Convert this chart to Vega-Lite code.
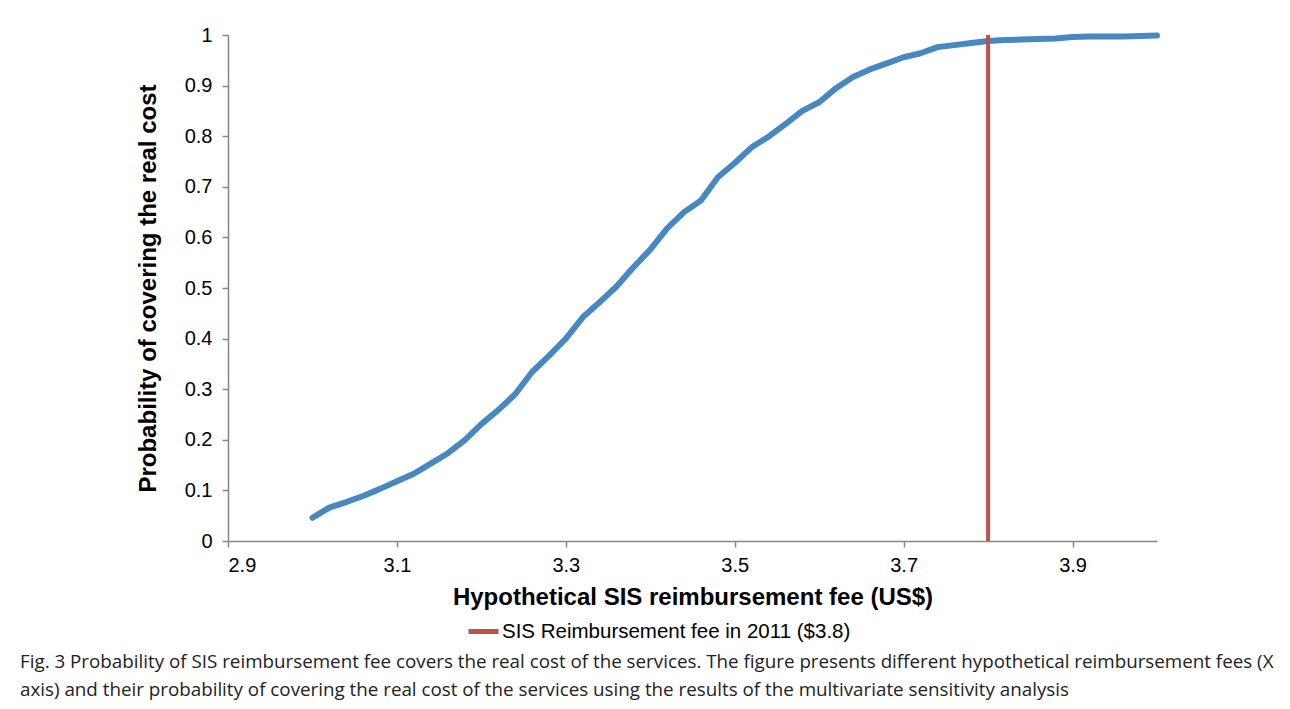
{
  "$schema": "https://vega.github.io/schema/vega-lite/v6.json",
  "width": 929,
  "height": 506,
  "autosize": "none",
  "padding": {"left": 228, "top": 35, "right": 133, "bottom": 168},
  "background": "white",
  "datasets": {
    "curve": [
      {"fee": 3.00, "probability": 0.046},
      {"fee": 3.02, "probability": 0.066},
      {"fee": 3.04, "probability": 0.077},
      {"fee": 3.06, "probability": 0.089},
      {"fee": 3.08, "probability": 0.103},
      {"fee": 3.10, "probability": 0.118},
      {"fee": 3.12, "probability": 0.133},
      {"fee": 3.14, "probability": 0.153},
      {"fee": 3.16, "probability": 0.173},
      {"fee": 3.18, "probability": 0.199},
      {"fee": 3.20, "probability": 0.231},
      {"fee": 3.22, "probability": 0.259},
      {"fee": 3.24, "probability": 0.290},
      {"fee": 3.26, "probability": 0.334},
      {"fee": 3.28, "probability": 0.366},
      {"fee": 3.30, "probability": 0.400},
      {"fee": 3.32, "probability": 0.442},
      {"fee": 3.34, "probability": 0.472},
      {"fee": 3.36, "probability": 0.503},
      {"fee": 3.38, "probability": 0.541},
      {"fee": 3.40, "probability": 0.576},
      {"fee": 3.42, "probability": 0.618},
      {"fee": 3.44, "probability": 0.650},
      {"fee": 3.46, "probability": 0.673},
      {"fee": 3.48, "probability": 0.719},
      {"fee": 3.50, "probability": 0.747},
      {"fee": 3.52, "probability": 0.778},
      {"fee": 3.54, "probability": 0.799},
      {"fee": 3.56, "probability": 0.824},
      {"fee": 3.58, "probability": 0.850},
      {"fee": 3.60, "probability": 0.867},
      {"fee": 3.62, "probability": 0.895},
      {"fee": 3.64, "probability": 0.917},
      {"fee": 3.66, "probability": 0.932},
      {"fee": 3.68, "probability": 0.944},
      {"fee": 3.70, "probability": 0.956},
      {"fee": 3.72, "probability": 0.964},
      {"fee": 3.74, "probability": 0.976},
      {"fee": 3.76, "probability": 0.980},
      {"fee": 3.78, "probability": 0.984},
      {"fee": 3.80, "probability": 0.988},
      {"fee": 3.82, "probability": 0.990},
      {"fee": 3.84, "probability": 0.991},
      {"fee": 3.86, "probability": 0.992},
      {"fee": 3.88, "probability": 0.993},
      {"fee": 3.90, "probability": 0.996},
      {"fee": 3.92, "probability": 0.997},
      {"fee": 3.94, "probability": 0.997},
      {"fee": 3.96, "probability": 0.997},
      {"fee": 3.98, "probability": 0.998},
      {"fee": 4.00, "probability": 0.999}
    ],
    "reference": [
      {"fee": 3.8, "label": "SIS Reimbursement fee in 2011 ($3.8)"}
    ]
  },
  "title": {
    "text": [
      "Fig. 3  Probability of SIS reimbursement fee covers the real cost of the services. The figure presents different hypothetical reimbursement fees (X",
      "axis) and their probability of covering the real cost of the services using the results of the multivariate sensitivity analysis"
    ],
    "orient": "bottom",
    "anchor": "start",
    "frame": "group",
    "dx": -208,
    "offset": 11,
    "font": "Open Sans",
    "fontSize": 18.8,
    "fontWeight": "normal",
    "color": "#222222",
    "lineHeight": 28,
    "limit": 0
  },
  "layer": [
    {
      "data": {"name": "curve"},
      "mark": {"type": "line", "color": "#4888C0", "strokeWidth": 6, "strokeCap": "round", "strokeJoin": "round"},
      "encoding": {
        "x": {
          "field": "fee",
          "type": "quantitative",
          "scale": {"domain": [2.9, 4.0], "nice": false, "zero": false},
          "axis": {
            "title": "Hypothetical SIS reimbursement fee (US$)",
            "values": [2.9, 3.1, 3.3, 3.5, 3.7, 3.9],
            "format": ".1f"
          }
        },
        "y": {
          "field": "probability",
          "type": "quantitative",
          "scale": {"domain": [0, 1], "nice": false},
          "axis": {
            "title": "Probability of covering the real cost",
            "values": [0, 0.1, 0.2, 0.3, 0.4, 0.5, 0.6, 0.7, 0.8, 0.9, 1],
            "format": "~g"
          }
        }
      }
    },
    {
      "data": {"name": "reference"},
      "mark": {"type": "rule", "strokeWidth": 4},
      "encoding": {
        "x": {"field": "fee", "type": "quantitative"},
        "color": {
          "field": "label",
          "type": "nominal",
          "scale": {"range": ["#C0504D"]},
          "legend": {
            "title": null,
            "orient": "none",
            "legendX": 238,
            "legendY": 579,
            "symbolType": "stroke",
            "symbolSize": 900,
            "symbolStrokeWidth": 5,
            "labelFont": "Liberation Sans",
            "labelFontSize": 20.5,
            "labelColor": "#000000",
            "labelOffset": 1,
            "labelLimit": 0
          }
        }
      }
    }
  ],
  "config": {
    "view": {"stroke": null},
    "axis": {
      "grid": false,
      "domainColor": "#878787",
      "domainWidth": 1.5,
      "tickColor": "#878787",
      "tickWidth": 1.5,
      "tickSize": 6,
      "labelFont": "Liberation Sans",
      "labelFontSize": 20,
      "labelColor": "#000000",
      "titleFont": "Liberation Sans",
      "titleFontSize": 24,
      "titleFontWeight": "bold",
      "titleColor": "#000000"
    },
    "axisX": {"labelPadding": 8, "titlePadding": 10},
    "axisY": {"labelPadding": 10, "titlePadding": 24}
  }
}
